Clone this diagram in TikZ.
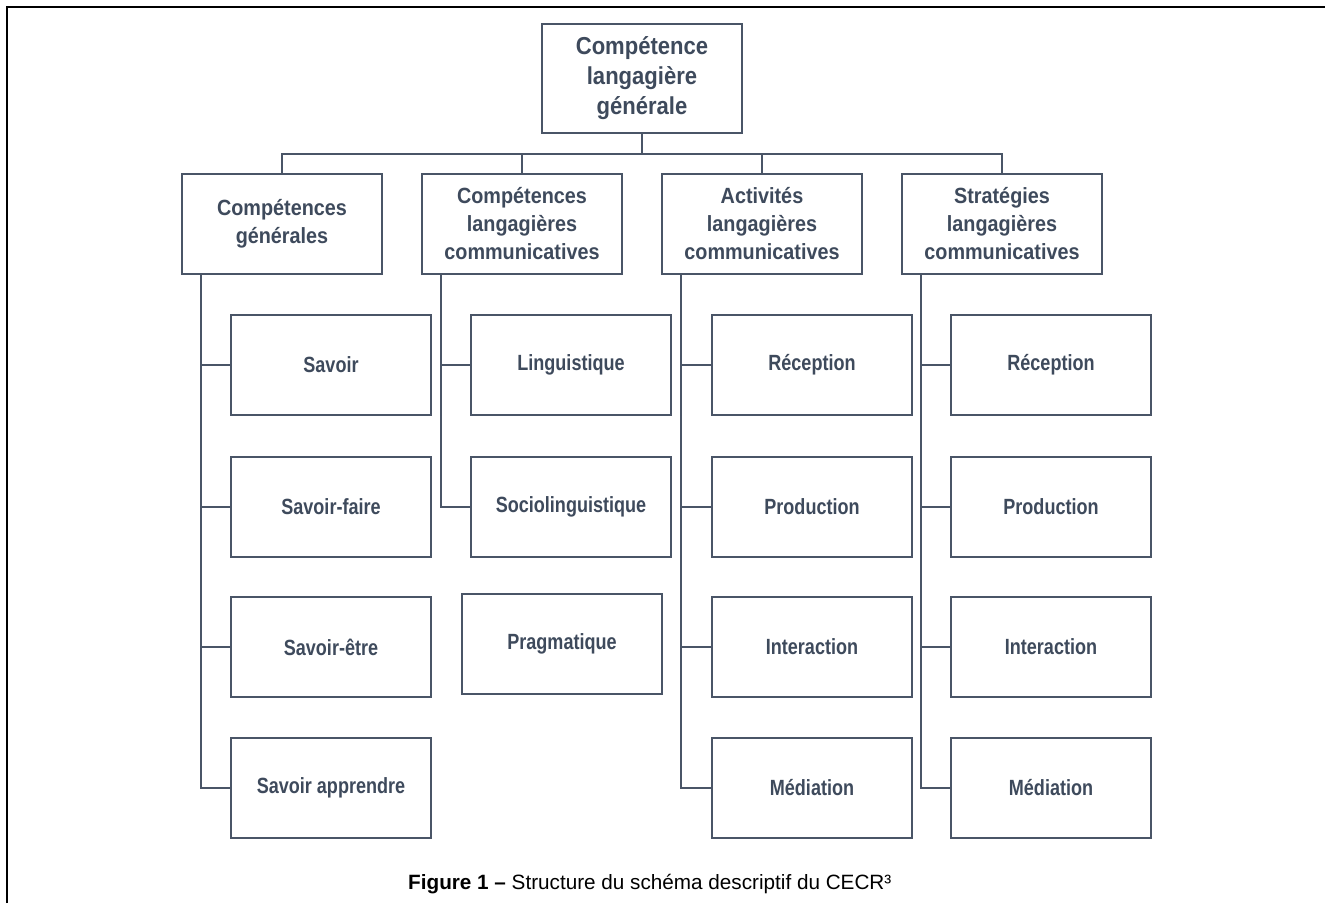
\documentclass[tikz,border=0pt]{standalone}
\usepackage{fontspec}
\setmainfont{Liberation Sans}
\newfontfamily\boxfont{Liberation Sans}[FakeStretch=0.9]
\newfontfamily\childfont{Liberation Sans}[FakeStretch=0.82]
\definecolor{textc}{HTML}{3E4A5C}
\definecolor{linec}{HTML}{4A5567}
\tikzset{
  x=1pt, y=-1pt,
  box/.style={draw=linec, line width=2pt, fill=white, minimum width=200pt, minimum height=100pt,
    inner sep=0pt, align=center, text=textc, font=\boxfont\bfseries\fontsize{22}{28}\selectfont},
  topbox/.style={box, minimum height=109pt, font=\boxfont\bfseries\fontsize{24.5}{30}\selectfont},
  childbox/.style={box, font=\childfont\bfseries\fontsize{22}{28}\selectfont},
  link/.style={draw=linec, line width=2pt}
}
\begin{document}
\begin{tikzpicture}
\useasboundingbox (0,0) rectangle (1325,903);
% frame
\draw[line width=2pt, black] (6.5,903) -- (6.5,7) -- (1325,7);

% top
\node[topbox] (top) at (642,78.5) {Compétence\\langagière\\générale};

% headers
\node[box] (h1) at (282,224) {Compétences\\générales};
\node[box] (h2) at (522,224) {Compétences\\langagières\\communicatives};
\node[box] (h3) at (762,224) {Activités\\langagières\\communicatives};
\node[box] (h4) at (1002,224) {Stratégies\\langagières\\communicatives};

% column 1
\node[childbox] (a1) at (331,365) {Savoir};
\node[childbox] (a2) at (331,506.5) {Savoir-faire};
\node[childbox] (a3) at (331,647) {Savoir-être};
\node[childbox] (a4) at (331,788) {Savoir apprendre};

% column 2
\node[childbox] (b1) at (571,365) {Linguistique};
\node[childbox] (b2) at (571,506.5) {Sociolinguistique};
\node[childbox] (b3) at (562,643.5) {Pragmatique};

% column 3
\node[childbox] (c1) at (812,365) {Réception};
\node[childbox] (c2) at (812,506.5) {Production};
\node[childbox] (c3) at (812,647) {Interaction};
\node[childbox] (c4) at (812,788) {Médiation};

% column 4
\node[childbox] (d1) at (1051,365) {Réception};
\node[childbox] (d2) at (1051,506.5) {Production};
\node[childbox] (d3) at (1051,647) {Interaction};
\node[childbox] (d4) at (1051,788) {Médiation};

% top bus
\draw[link] (top.south) -- ++(0,20) coordinate (bus);
\draw[link] (bus) -| (h1.north);
\draw[link] (bus) -| (h2.north);
\draw[link] (bus) -| (h3.north);
\draw[link] (bus) -| (h4.north);

% trunks
\foreach \h/\c in {h1/a1,h1/a2,h1/a3,h1/a4,h2/b1,h2/b2,h3/c1,h3/c2,h3/c3,h3/c4,h4/d1,h4/d2,h4/d3,h4/d4}{
  \draw[link] ([xshift=20pt]\h.south west) |- (\c.west);
}

% caption
\node[anchor=base west, inner sep=0pt, font=\fontsize{20.7}{24}\selectfont] (cap) at (408,889)
  {\textbf{Figure 1 –} Structure du schéma descriptif du CECR³};
\end{tikzpicture}
\end{document}
